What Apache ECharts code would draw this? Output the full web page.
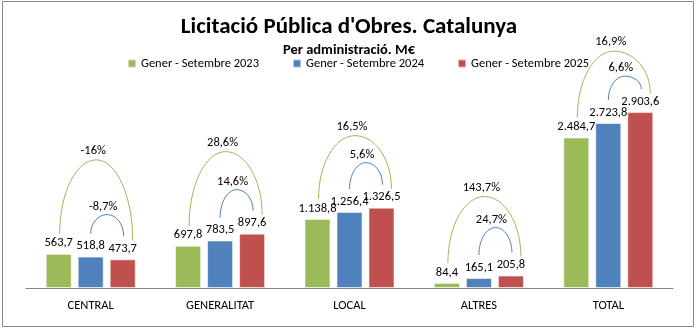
<!DOCTYPE html>
<html>
<head>
<meta charset="utf-8">
<script src="https://cdn.jsdelivr.net/npm/echarts@6/dist/echarts.min.js"></script>
<style>html,body{margin:0;padding:0;background:#fff;}#c{width:698px;height:330px;}</style>
</head>
<body>
<div id="c"></div>
<script>
// ---- data ----
const categories = ['CENTRAL', 'GENERALITAT', 'LOCAL', 'ALTRES', 'TOTAL'];
const seriesNames = ['Gener - Setembre 2023', 'Gener - Setembre 2024', 'Gener - Setembre 2025'];
const values2023 = [563.7, 697.8, 1138.8, 84.4, 2484.7];
const values2024 = [518.8, 783.5, 1256.4, 165.1, 2723.8];
const values2025 = [473.7, 897.6, 1326.5, 205.8, 2903.6];
const change25vs23 = [-16, 28.6, 16.5, 143.7, 16.9];
const change25vs24 = [-8.7, 14.6, 5.6, 24.7, 6.6];
const titleText = "Licitació Pública d'Obres. Catalunya";
const subtitleText = 'Per administració. M€';

// ---- layout / style ----
const FONT = 'Carlito, Lato, sans-serif';
const COLORS = ['#9BBB59', '#4F81BD', '#C0504D'];
const BAR_W = 26, BAR_GAP = 6;
const greenRise = [94, 82, 72, 79, 61];
const blueRise = [42, 44, 45, 48, 36];

function fmtNum(v) {
  const parts = v.toFixed(1).split('.');
  return parts[0].replace(/\B(?=(\d{3})+(?!\d))/g, '.') + ',' + parts[1];
}
function fmtPct(v) {
  return (Number.isInteger(v) ? String(v) : v.toFixed(1).replace('.', ',')) + '%';
}

function arcChildren(L, R, peakY, color) {
  const k = 0.5523;
  const mx = (L[0] + R[0]) / 2;
  const st = { stroke: color, lineWidth: 1, fill: null };
  return [
    { type: 'bezierCurve', shape: { x1: L[0], y1: L[1], cpx1: L[0], cpy1: L[1] - k * (L[1] - peakY), cpx2: mx - k * (mx - L[0]), cpy2: peakY, x2: mx, y2: peakY }, style: st },
    { type: 'bezierCurve', shape: { x1: mx, y1: peakY, cpx1: mx + k * (R[0] - mx), cpy1: peakY, cpx2: R[0], cpy2: R[1] - k * (R[1] - peakY), x2: R[0], y2: R[1] }, style: st }
  ];
}

const chart = echarts.init(document.getElementById('c'), null, { renderer: 'canvas' });
const barSeries = [values2023, values2024, values2025].map((vals, s) => ({
  name: seriesNames[s],
  type: 'bar',
  data: vals,
  barWidth: BAR_W,
  barGap: (BAR_GAP / BAR_W * 100) + '%',
  itemStyle: { color: COLORS[s], borderColor: 'rgba(255,255,255,0.55)', borderWidth: 1 },
  label: { show: true, position: 'top', distance: 4, formatter: p => fmtNum(p.value), color: '#000', fontSize: 12.5, fontFamily: FONT }
}));

const option = {
  animation: false,
  backgroundColor: '#fff',
  title: [
    { text: titleText, left: 'center', top: 11, textStyle: { fontFamily: FONT, fontWeight: 'bold', fontSize: 23, color: '#000' } },
    { text: subtitleText, left: 'center', top: 38, textStyle: { fontFamily: FONT, fontWeight: 'bold', fontSize: 14.5, color: '#000' } }
  ],
  legend: {
    data: seriesNames, top: 52, left: 122, icon: 'rect', itemWidth: 8, itemHeight: 8, itemGap: 33,
    textStyle: { fontFamily: FONT, fontSize: 12.5, color: '#000' }, selectedMode: false
  },
  grid: { left: 26, right: 25, top: 76, bottom: 42, containLabel: false },
  xAxis: {
    type: 'category', data: categories,
    axisLine: { lineStyle: { color: '#868686' } }, axisTick: { show: false },
    axisLabel: { margin: 11, fontFamily: FONT, fontSize: 12.5, color: '#000' }
  },
  yAxis: { type: 'value', min: 0, max: 3500, show: false, splitLine: { show: false } },
  graphic: [
    { type: 'rect', shape: { x: 2.5, y: 1.5, width: 691, height: 325 }, style: { stroke: '#868686', fill: null, lineWidth: 1 }, z: 100 }
  ],
  series: barSeries.concat([{
    type: 'custom',
    silent: true,
    clip: false,
    z: 10,
    data: categories.map((c, i) => [i, 0]),
    renderItem: function (params, api) {
      const i = api.value(0);
      const cx = api.coord([i, 0])[0];
      const step = BAR_W + BAR_GAP;
      const gx = cx - step, bx = cx, rx = cx + step;
      const gTop = api.coord([i, values2023[i]])[1];
      const bTop = api.coord([i, values2024[i]])[1];
      const rTop = api.coord([i, values2025[i]])[1];
      const gPeak = Math.min(gTop, bTop, rTop) - greenRise[i];
      const bPeak = Math.min(bTop, rTop) - blueRise[i];
      const gL = [gx + 1, gTop - 20], gR = [rx + 10, rTop - 19];
      const bL = [bx, bTop - 23], bR = [rx + 1, rTop - 23];
      const gMid = (gL[0] + gR[0]) / 2, bMid = (bL[0] + bR[0]) / 2;
      const children = []
        .concat(arcChildren(gL, gR, gPeak, COLORS[0]))
        .concat(arcChildren(bL, bR, bPeak, COLORS[1]));
      children.push({ type: 'text', style: { text: fmtPct(change25vs23[i]), x: gMid - 3, y: gPeak - 9, textAlign: 'center', textVerticalAlign: 'middle', fontFamily: FONT, fontSize: 12.5, fill: '#000' } });
      children.push({ type: 'text', style: { text: fmtPct(change25vs24[i]), x: bMid - 4, y: bPeak - 8, textAlign: 'center', textVerticalAlign: 'middle', fontFamily: FONT, fontSize: 12.5, fill: '#000' } });
      return { type: 'group', children: children };
    }
  }])
};
chart.setOption(option);
</script>
</body>
</html>
